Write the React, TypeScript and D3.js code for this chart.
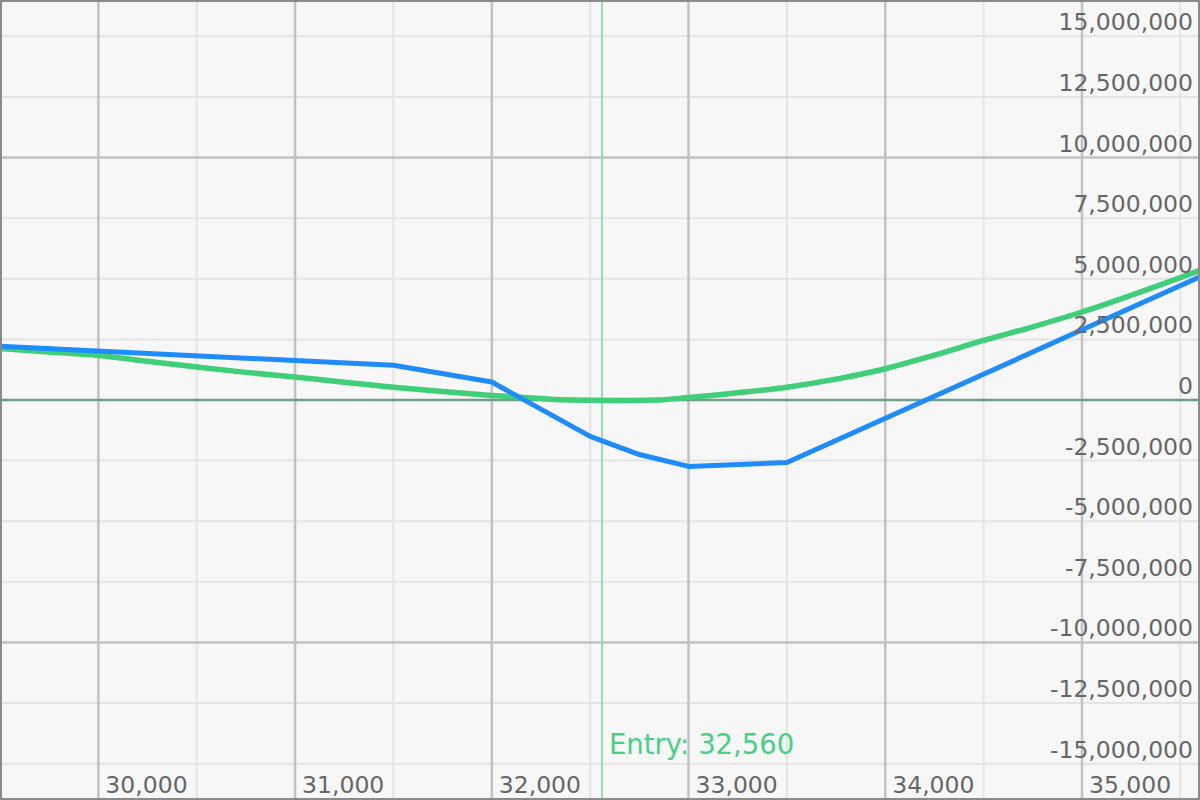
import React from "react";
import * as d3 from "d3";

const W = 1200;
const H = 800;

const xDomain = [29500, 35600];
const yDomain = [-16500000, 16500000];

const xTicks = [30000, 31000, 32000, 33000, 34000, 35000];
const xMinorTicks = [29500, 30500, 31500, 32500, 33500, 34500, 35500];
const yTicks = [
  15000000, 12500000, 10000000, 7500000, 5000000, 2500000, 0,
  -2500000, -5000000, -7500000, -10000000, -12500000, -15000000,
];
const yMajorTicks = [10000000, -10000000];

const entryPrice = 32560;

// Blue series (P&L at expiry)
const blueX = [29500, 31500, 32000, 32500, 32750, 33000, 33500, 35600];
const blueY = [2220000, 1430000, 740000, -1500000, -2250000, -2740000, -2580000, 5080000];

// Green series (P&L today)
const greenX = [
  29500, 29750, 30000, 30250, 30500, 30750, 31000, 31250, 31500, 31750,
  32000, 32250, 32350, 32500, 32700, 32850, 33000, 33250, 33500, 33750,
  34000, 34250, 34500, 34750, 35000, 35250, 35600,
];
const greenY = [
  2120000, 1980000, 1840000, 1600000, 1360000, 1140000, 950000, 730000, 530000, 350000,
  190000, 60000, 10000, -10000, -20000, 0, 100000, 300000, 530000, 860000,
  1290000, 1850000, 2460000, 3020000, 3630000, 4320000, 5350000,
];

const fmt = (v: number) => d3.format(",")(v).replace("\u2212", "-");

export default function App() {
  const x = d3.scaleLinear().domain(xDomain).range([0, W]);
  const y = d3.scaleLinear().domain(yDomain).range([H, 0]);

  const line = d3
    .line<[number, number]>()
    .x((d) => x(d[0]))
    .y((d) => y(d[1]));
  const smooth = d3
    .line<[number, number]>()
    .curve(d3.curveMonotoneX)
    .x((d) => x(d[0]))
    .y((d) => y(d[1]));

  const blueData: [number, number][] = blueX.map((v, i) => [v, blueY[i]]);
  const greenData: [number, number][] = greenX.map((v, i) => [v, greenY[i]]);

  const font = "'DejaVu Sans', Verdana, sans-serif";

  return (
    <svg
      width={W}
      height={H}
      style={{ position: "absolute", left: 0, top: 0, display: "block" }}
    >
      <rect x={0} y={0} width={W} height={H} fill="#f7f7f7" />
      {yTicks.map((t) =>
        t === 0 || yMajorTicks.includes(t) ? null : (
          <line key={"hy" + t} x1={0} x2={W} y1={y(t)} y2={y(t)} stroke="#e4e4e4" strokeWidth={2} />
        )
      )}
      {xMinorTicks.map((t) => (
        <line key={"vx" + t} x1={x(t)} x2={x(t)} y1={0} y2={H} stroke="#e4e4e4" strokeWidth={2} />
      ))}
      {yMajorTicks.map((t) => (
        <line key={"my" + t} x1={0} x2={W} y1={y(t)} y2={y(t)} stroke="#c2c2c2" strokeWidth={2.5} />
      ))}
      {xTicks.map((t) => (
        <line key={"mx" + t} x1={x(t)} x2={x(t)} y1={0} y2={H} stroke="#c2c2c2" strokeWidth={2.5} />
      ))}
      <line x1={0} x2={W} y1={y(0)} y2={y(0)} stroke="#6d9f86" strokeWidth={2.5} />
      <line x1={x(entryPrice)} x2={x(entryPrice)} y1={0} y2={H} stroke="#92e0b0" strokeWidth={2} />

      <path d={smooth(greenData) || ""} fill="none" stroke="#3ecf78" strokeWidth={5.5} strokeLinejoin="round" />
      <path d={line(blueData) || ""} fill="none" stroke="#1e8cff" strokeWidth={5} strokeLinejoin="round" />

      {yTicks.map((t) => (
        <text
          key={"yl" + t}
          x={1193}
          y={y(t) - 6}
          textAnchor="end"
          fontFamily={font}
          fontSize={23.5}
          fill="#666"
        >
          {fmt(t)}
        </text>
      ))}
      {xTicks.map((t) => (
        <text
          key={"xl" + t}
          x={x(t) + 7}
          y={793}
          fontFamily={font}
          fontSize={23.5}
          fill="#666"
        >
          {fmt(t)}
        </text>
      ))}
      <text x={x(entryPrice) + 7} y={754} fontFamily={font} fontSize={27.5} fill="#46d184">
        {"Entry: " + fmt(entryPrice)}
      </text>

      <rect x={1} y={1} width={W - 2} height={H - 2} fill="none" stroke="#8a8a8a" strokeWidth={2} />
    </svg>
  );
}
